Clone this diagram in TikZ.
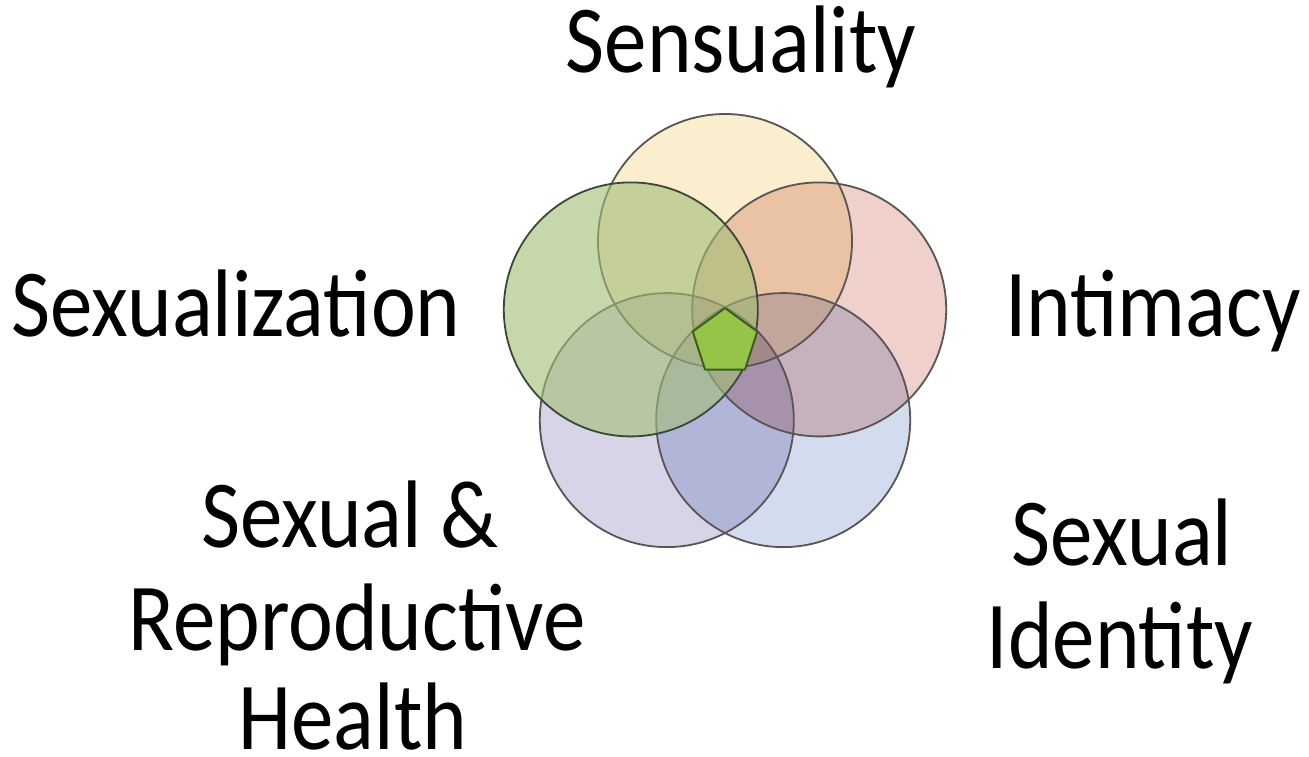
\documentclass[tikz,border=0pt]{standalone}
\usepackage{fontspec}
\setmainfont{Carlito}
\definecolor{cyel}{HTML}{FAEECF}
\definecolor{cpink}{HTML}{EFD0CB}
\definecolor{cblue}{HTML}{D3DBEE}
\definecolor{clav}{HTML}{D7D4E8}
\definecolor{cgreen}{HTML}{A3BD76}
\definecolor{cedge}{HTML}{5A5454}
\definecolor{cgedge}{HTML}{3C4737}
\definecolor{cpent}{HTML}{95C448}
\definecolor{cpentedge}{HTML}{3F5E1E}
\tikzset{
  lab/.style={anchor=base, inner sep=0pt, font=\fontsize{96}{104}\selectfont, xscale=0.885, transform shape},
  ring/.style={draw=cedge, line width=1.8pt},
}
\begin{document}
\begin{tikzpicture}[x=1pt,y=-1pt]
\useasboundingbox (0,0) rectangle (1309,756);
\fill[white] (0,0) rectangle (1309,756);
\coordinate (cY) at (725,241);
\coordinate (cP) at (819.2,309.4);
\coordinate (cB) at (783.2,420.1);
\coordinate (cL) at (666.8,420.1);
\coordinate (cG) at (630.8,309.4);
\begin{scope}[blend mode=multiply]
  \fill[cyel] (cY) circle[radius=127];
  \fill[cpink] (cP) circle[radius=127];
  \fill[cblue] (cB) circle[radius=127];
  \fill[clav] (cL) circle[radius=127];
\end{scope}
\draw[ring] (cY) circle[radius=127];
\draw[ring] (cP) circle[radius=127];
\draw[ring] (cB) circle[radius=127];
\draw[ring] (cL) circle[radius=127];
\fill[cgreen, fill opacity=0.6] (cG) circle[radius=127];
\draw[ring, draw=cgedge] (cG) circle[radius=127];
\coordinate (p1) at (725,308);
\coordinate (p2) at (757.3,331.5);
\coordinate (p3) at (745,369.5);
\coordinate (p4) at (705,369.5);
\coordinate (p5) at (692.7,331.5);
\draw[fill=cpent, draw=cpentedge, line width=2pt, line join=round] (p1) -- (p2) -- (p3) -- (p4) -- (p5) -- cycle;
\node[lab] (sens) at (741,72) {Sensuality};
\node[lab] (sexz) at (236,336) {Sexualization};
\node[lab] (inti) at (1153,336) {Intimacy};
\node[lab] (sr1) at (350,547) {Sexual \&};
\node[lab] (sr2) at (357,650) {Reproductive};
\node[lab] (sr3) at (353,749) {Health};
\node[lab] (si1) at (1122,565) {Sexual};
\node[lab] (si2) at (1120,668) {Identity};
\end{tikzpicture}
\end{document}
